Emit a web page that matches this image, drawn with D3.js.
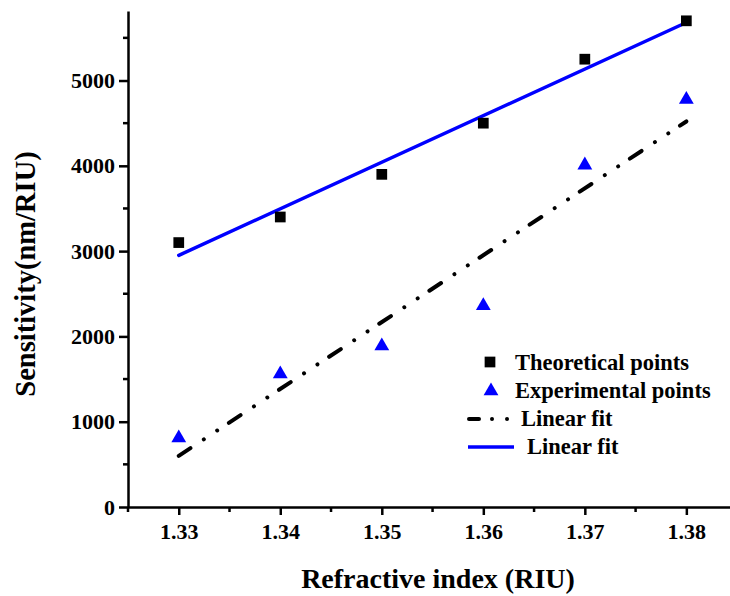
<!DOCTYPE html>
<html>
<head>
<meta charset="utf-8">
<script src="https://cdn.jsdelivr.net/npm/d3@7"></script>
<style>
  body { margin: 0; background: #fff; }
  svg text { font-family: "Liberation Serif", "Times New Roman", serif; font-weight: bold; }
</style>
</head>
<body>
<div id="chart"></div>
<script>
// values
var refIndex = [1.33, 1.34, 1.35, 1.36, 1.37, 1.38];
var theoretical = [3100, 3400, 3900, 4500, 5250, 5700];
var experimental = [820, 1570, 1900, 2370, 4020, 4790];
// linear fit end points (at 1.33 and 1.38)
var fitX = [1.33, 1.38];
var fitTheory = [2950, 5680];
var fitExper = [600, 4520];
var xTicks = [1.33, 1.34, 1.35, 1.36, 1.37, 1.38];
var yTicks = [0, 1000, 2000, 3000, 4000, 5000];

var width = 730, height = 596;
var svg = d3.select('#chart').append('svg').attr('width', width).attr('height', height);

var xScale = d3.scaleLinear().domain([1.325, 1.3843]).range([128, 730]);
var yScale = d3.scaleLinear().domain([0, 5815]).range([507, 11]);

// minor ticks
var xMinor = d3.range(1.325, 1.384, 0.005).map(function(d){ return +d.toFixed(3) }).filter(function(d){ return xTicks.indexOf(d) < 0 });
var yMinor = d3.range(500, 5800, 1000);

var xAxis = d3.axisBottom(xScale).tickValues(xTicks).tickSize(8).tickSizeOuter(0).tickPadding(6).tickFormat(d3.format('.2f'));
var yAxis = d3.axisLeft(yScale).tickValues(yTicks).tickSize(9).tickSizeOuter(0).tickPadding(4).tickFormat(d3.format('d'));

var gx = svg.append('g').attr('transform', 'translate(0,507)').call(xAxis);
gx.append('g').selectAll('line').data(xMinor).enter().append('line')
  .attr('x1', function(d){ return xScale(d) }).attr('x2', function(d){ return xScale(d) })
  .attr('y1', 0).attr('y2', 5).attr('stroke', '#000').attr('stroke-width', 2.5);

var gy = svg.append('g').attr('transform', 'translate(128,0)').call(yAxis);
gy.append('g').selectAll('line').data(yMinor).enter().append('line')
  .attr('y1', function(d){ return yScale(d) }).attr('y2', function(d){ return yScale(d) })
  .attr('x1', 0).attr('x2', -5).attr('stroke', '#000').attr('stroke-width', 2.5);

[gx, gy].forEach(function(g){
  g.select('.domain').attr('stroke', '#000').attr('stroke-width', 2.5);
  g.selectAll('.tick line').attr('stroke', '#000').attr('stroke-width', 2.5);
  g.selectAll('.tick text').attr('fill', '#000').style('font-size', '22px')
    .style('font-family', '"Liberation Serif", serif').style('font-weight', 'bold');
});
gx.selectAll('.tick text').attr('dy', '0.8em');

// axis titles
svg.append('text').text('Refractive index (RIU)')
  .attr('x', 438).attr('y', 588).attr('text-anchor', 'middle').style('font-size', '28px');
svg.append('text').text('Sensitivity(nm/RIU)')
  .attr('transform', 'translate(35,274) rotate(-90)').attr('text-anchor', 'middle').style('font-size', '28.5px');

// fit lines
var line = d3.line().x(function(d){ return xScale(d[0]) }).y(function(d){ return yScale(d[1]) });
svg.append('path').datum(d3.zip(fitX, fitExper))
  .attr('fill', 'none').attr('stroke', '#000').attr('stroke-width', 4)
  .attr('stroke-linecap', 'round').attr('stroke-dasharray', '14,16,0.01,16,0.01,14')
  .attr('d', line);
svg.append('path').datum(d3.zip(fitX, fitTheory))
  .attr('fill', 'none').attr('stroke', '#0000ff').attr('stroke-width', 3.5)
  .attr('stroke-linecap', 'round').attr('d', line);

// points
var square = d3.symbol().type(d3.symbolSquare).size(115);
var triangle = d3.symbol().type(d3.symbolTriangle).size(95);

svg.append('g').selectAll('path').data(d3.zip(refIndex, theoretical)).enter().append('path')
  .attr('d', square)
  .attr('transform', function(d){ return 'translate(' + xScale(d[0]) + ',' + yScale(d[1]) + ')' })
  .attr('fill', '#000');
svg.append('g').selectAll('path').data(d3.zip(refIndex, experimental)).enter().append('path')
  .attr('d', triangle)
  .attr('transform', function(d){ return 'translate(' + xScale(d[0]) + ',' + (yScale(d[1]) + 1) + ')' })
  .attr('fill', '#0000ff');

// legend
var legend = svg.append('g');
legend.append('path').attr('d', square).attr('transform', 'translate(490,362)').attr('fill', '#000');
legend.append('text').text('Theoretical points').attr('x', 515).attr('y', 370).style('font-size', '22.5px');
legend.append('path').attr('d', triangle).attr('transform', 'translate(491,391)').attr('fill', '#0000ff');
legend.append('text').text('Experimental points').attr('x', 515).attr('y', 398).style('font-size', '22.5px');
legend.append('line').attr('x1', 469).attr('x2', 508).attr('y1', 419).attr('y2', 419)
  .attr('stroke', '#000').attr('stroke-width', 4).attr('stroke-linecap', 'round')
  .attr('stroke-dasharray', '10,13,0.01,15,0.01,20');
legend.append('text').text('Linear fit').attr('x', 521).attr('y', 426).style('font-size', '22.5px');
legend.append('line').attr('x1', 468).attr('x2', 514).attr('y1', 447).attr('y2', 447)
  .attr('stroke', '#0000ff').attr('stroke-width', 3.5);
legend.append('text').text('Linear fit').attr('x', 527).attr('y', 454).style('font-size', '22.5px');
</script>
</body>
</html>
